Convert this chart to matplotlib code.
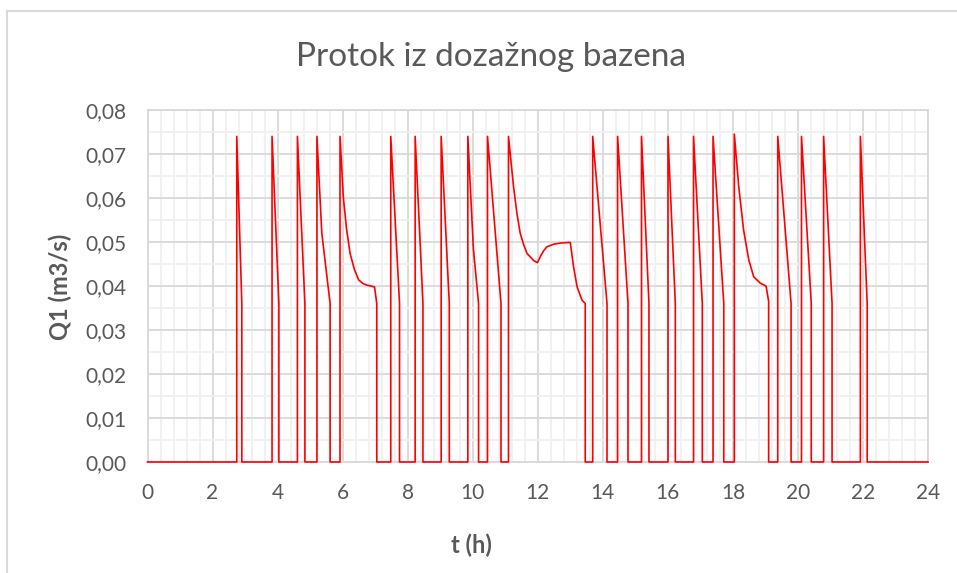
import matplotlib.pyplot as plt
from matplotlib.lines import Line2D
from matplotlib.ticker import MultipleLocator, FuncFormatter

# trace of Q1, one line per pump cycle (t in h, Q1 in m3/s)
t_h = [
    0.0, 2.745,
    2.745, 2.745, 2.90, 2.90,
    3.83, 3.83, 4.04, 4.04,
    4.61, 4.61, 4.84, 4.84,
    5.21, 5.21, 5.36, 5.615, 5.615,
    5.92, 5.92, 6.02, 6.12, 6.23, 6.36, 6.49, 6.62, 6.74, 6.98, 7.05, 7.05,
    7.48, 7.48, 7.75, 7.75,
    8.23, 8.23, 8.47, 8.47,
    9.03, 9.03, 9.28, 9.28,
    9.85, 9.85, 10.02, 10.18, 10.18,
    10.455, 10.455, 10.87, 10.87,
    11.10, 11.10, 11.255, 11.36, 11.46, 11.57, 11.67, 11.87, 11.99,
    12.08, 12.18, 12.28, 12.49, 12.74, 13.0, 13.10, 13.21, 13.36, 13.46, 13.46,
    13.69, 13.69, 14.13, 14.13,
    14.455, 14.455, 14.775, 14.775,
    15.19, 15.19, 15.42, 15.42,
    16.005, 16.005, 16.23, 16.23,
    16.79, 16.79, 17.06, 17.06,
    17.39, 17.39, 17.72, 17.72,
    18.045, 18.045, 18.18, 18.33, 18.49, 18.64, 18.85, 19.02, 19.10, 19.10,
    19.38, 19.38, 19.79, 19.79,
    20.11, 20.11, 20.41, 20.41,
    20.79, 20.79, 21.05, 21.05,
    21.92, 21.92, 22.13, 22.13,
    24.0,
]
q1 = [
    0.0, 0.0,
    0.0, 0.074, 0.036, 0.0,
    0.0, 0.074, 0.036, 0.0,
    0.0, 0.074, 0.036, 0.0,
    0.0, 0.074, 0.052, 0.036, 0.0,
    0.0, 0.074, 0.0603, 0.0530, 0.0474, 0.0438, 0.0414, 0.0406, 0.0402, 0.0398, 0.036, 0.0,
    0.0, 0.074, 0.036, 0.0,
    0.0, 0.074, 0.036, 0.0,
    0.0, 0.074, 0.036, 0.0,
    0.0, 0.074, 0.0485, 0.036, 0.0,
    0.0, 0.074, 0.036, 0.0,
    0.0, 0.074, 0.0626, 0.0565, 0.0520, 0.0493, 0.0474, 0.0458, 0.0453,
    0.0467, 0.0480, 0.0489, 0.0495, 0.0498, 0.0499, 0.0444, 0.0398, 0.0368, 0.036, 0.0,
    0.0, 0.074, 0.036, 0.0,
    0.0, 0.074, 0.036, 0.0,
    0.0, 0.074, 0.036, 0.0,
    0.0, 0.074, 0.036, 0.0,
    0.0, 0.074, 0.036, 0.0,
    0.0, 0.074, 0.036, 0.0,
    0.0, 0.0745, 0.0626, 0.0527, 0.0459, 0.0421, 0.0406, 0.040, 0.0365, 0.0,
    0.0, 0.074, 0.036, 0.0,
    0.0, 0.074, 0.036, 0.0,
    0.0, 0.074, 0.036, 0.0,
    0.0, 0.074, 0.036, 0.0,
    0.0,
]

title = 'Protok iz dozažnog bazena'
xlabel = 't (h)'
ylabel = 'Q1 (m3/s)'

grey_txt = '#595959'
plt.rcParams['font.family'] = ['Lato', 'DejaVu Sans']

fig = plt.figure(figsize=(9.57, 5.73), dpi=100)
ax = fig.add_axes([147.5 / 957, 1 - 462 / 573, 780.5 / 957, 352 / 573])

ax.plot(t_h, q1, color='#ff0000', lw=1.2, zorder=4, clip_on=False)

ax.set_xlim(0, 24)
ax.set_ylim(0, 0.08)
ax.xaxis.set_major_locator(MultipleLocator(2))
ax.xaxis.set_minor_locator(MultipleLocator(0.4))
ax.yaxis.set_major_locator(MultipleLocator(0.01))
ax.yaxis.set_minor_locator(MultipleLocator(0.005))
ax.yaxis.set_major_formatter(FuncFormatter(lambda v, p: f'{v:.2f}'.replace('.', ',')))
ax.xaxis.set_major_formatter(FuncFormatter(lambda v, p: f'{v:g}'))

ax.grid(which='major', color='#d9d9d9', lw=1.3)
ax.grid(which='minor', color='#f0f0f0', lw=1.3)
ax.set_axisbelow(True)
for s in ax.spines.values():
    s.set_color('#d9d9d9')
    s.set_linewidth(1.3)

ax.tick_params(which='both', length=0)
ax.tick_params(axis='x', pad=15, labelsize=15, labelcolor=grey_txt)
ax.tick_params(axis='y', pad=15, labelsize=15, labelcolor=grey_txt)

ax.set_xlabel(xlabel, fontsize=17, fontweight='bold', color=grey_txt)
ax.set_ylabel(ylabel, fontsize=17, fontweight='bold', color=grey_txt)
ax.xaxis.set_label_coords((471 - 147.5) / 780.5, (462 - 545) / 352)
ax.yaxis.set_label_coords((60 - 147.5) / 780.5, (462 - 287) / 352)
ax.xaxis.label.set_va('center')
ax.yaxis.label.set_va('center')

fig.text(490.6 / 957, 1 - 57 / 573, title, fontsize=24, color=grey_txt,
         ha='center', va='center')

# chart area border (only top and left edges are inside the crop)
fig.add_artist(Line2D([7.5 / 957, 7.5 / 957], [0, 1 - 11 / 573],
                      transform=fig.transFigure, color='#d9d9d9', lw=1.5))
fig.add_artist(Line2D([7.5 / 957, 1], [1 - 11 / 573, 1 - 11 / 573],
                      transform=fig.transFigure, color='#d9d9d9', lw=1.5))

fig.savefig('out.png', dpi=100)
